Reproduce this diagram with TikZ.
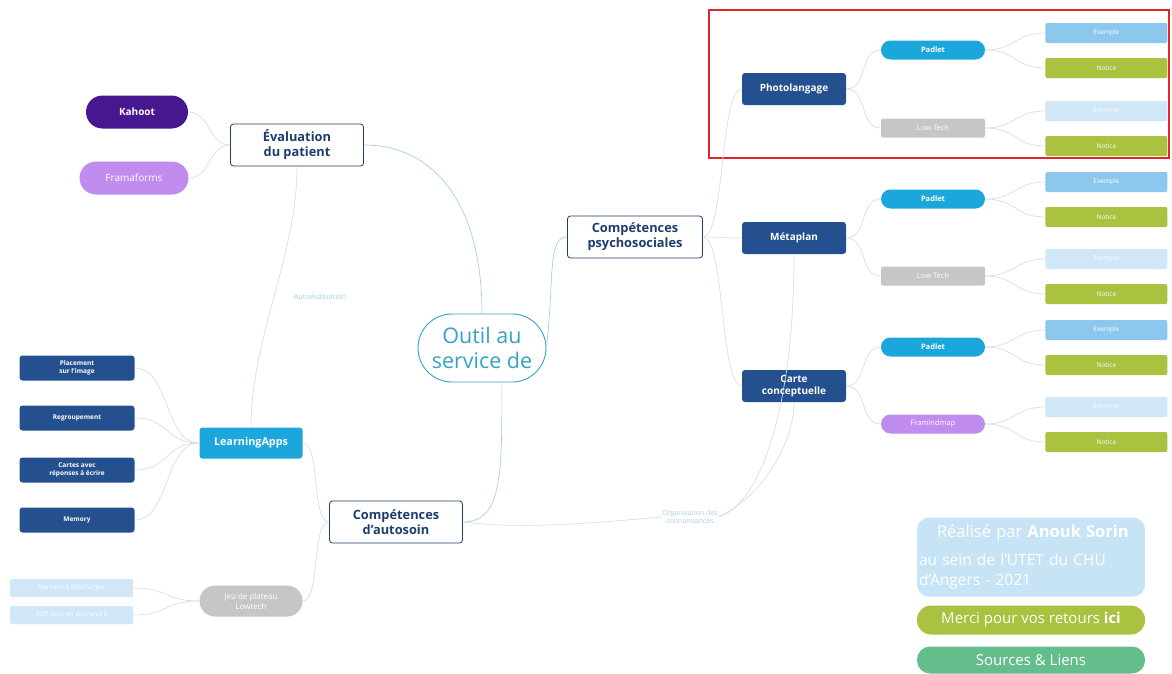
\documentclass[tikz,border=0pt]{standalone}
\usepackage{fontspec}
\setmainfont{Open Sans}
\usetikzlibrary{positioning}
\definecolor{mnavy}{HTML}{24508F}
\definecolor{mdark}{HTML}{1F3C6E}
\definecolor{mteal}{HTML}{35A3C6}
\definecolor{mblue}{HTML}{1BA6DC}
\definecolor{mpurple}{HTML}{46178F}
\definecolor{mlilac}{HTML}{C08CF0}
\definecolor{mgrey}{HTML}{C6C6C6}
\definecolor{mexa}{HTML}{8CC8EE}
\definecolor{mexb}{HTML}{CFE7F7}
\definecolor{mgreen}{HTML}{A9C23F}
\definecolor{mmint}{HTML}{64BE8C}
\definecolor{msky}{HTML}{C6E4F6}
\definecolor{mred}{HTML}{E0282C}
\definecolor{mline}{HTML}{A8D0E8}
\definecolor{mthin}{HTML}{D6E0E8}
\tikzset{topic/.style = {draw=mdark, line width=0.8pt, fill=white, rounded corners=3pt,
                         text=mdark, align=center, inner sep=0,
                         font=\bfseries\fontsize{12.8}{15}\selectfont,
                         minimum width=133, minimum height=42}}
\tikzset{box/.style = {rounded corners=3pt, text=white, align=center, inner sep=0,
                       font=\bfseries\fontsize{10}{12}\selectfont,
                       minimum width=104, minimum height=32}}
\tikzset{pill/.style = {box, rounded corners=#1}, pill/.default=9.5pt}
\tikzset{leaf/.style = {rounded corners=2pt, text=white, inner sep=0, anchor=west,
                        font=\fontsize{6.5}{8}\selectfont,
                        minimum width=122, minimum height=20}}
\tikzset{note/.style = {text=mline, align=center, inner sep=0,
                        font=\fontsize{7.5}{9}\selectfont}}
\tikzset{link/.style = {draw=mline, line width=0.7pt}}
\tikzset{thin/.style = {draw=mthin, line width=0.7pt}}
\tikzset{branch/.style = {to path={.. controls +(#1,0) and +(-#1,0) .. (\tikztotarget) \tikztonodes}}}

\begin{document}
\begin{tikzpicture}[x=1pt, y=-1pt]
    \useasboundingbox [fill=white] (0,0) rectangle (1172,673);

    % centre et themes
    \node [draw=mteal, line width=0.9pt, rounded corners=34pt, text=mteal, align=center,
           minimum width=128, minimum height=68, inner sep=0,
           font=\fontsize{21.5}{25}\selectfont] (outil) at (482,348) {Outil au\\service de};
    \node [topic] (eval) at (297,145) {Évaluation\\du patient};
    \node [topic, minimum width=135] (psy) at (635,237) {Compétences\\psychosociales};
    \node [topic] (auto) at (396,522) {Compétences\\d'autosoin};

    \draw [link] (outil.north) .. controls +(0,-110) and +(70,0) .. (eval.east);
    \draw [link] (outil.east) .. controls +(8,-70) and +(-20,0) .. (psy.west);
    \draw [link] (outil.-60) .. controls +(0,90) and +(40,0) .. (auto.east);

    % evaluation du patient
    \node [pill=16.5pt, fill=mpurple, minimum width=102, minimum height=33] (kahoot) at (137,112) {Kahoot};
    \node [pill=16.5pt, fill=mlilac, minimum width=109, minimum height=33, font=\fontsize{10}{12}\selectfont] (frama) at (134,178) {Framaforms};
    \draw [thin] (eval.west) to [branch=-22] (kahoot.east);
    \draw [thin] (eval.west) to [branch=-22] (frama.east);

    % autosoin
    \node [box, fill=mblue, minimum width=103, minimum height=31, font=\bfseries\fontsize{10.8}{13}\selectfont] (lapps) at (251,443) {LearningApps};
    \node [pill=15.5pt, fill=mgrey, minimum width=103, minimum height=31,
           font=\fontsize{8}{10}\selectfont] (jeu) at (251,601) {Jeu de plateau\\Lowtech};
    \draw [thin] (eval.south) .. controls +(0,90) and +(0,-90) ..
        node [note, pos=0.5, xshift=46pt] {Autoévaluation} (lapps.north);
    \draw [thin] (auto.west) to [branch=-18] (lapps.east);
    \draw [thin] (auto.west) to [branch=-18] (jeu.east);

    \node [box, fill=mnavy, minimum width=115, minimum height=25, font=\bfseries\fontsize{6.5}{7.5}\selectfont] (place) at (77,368) {Placement\\sur l'image};
    \node [box, fill=mnavy, minimum width=115, minimum height=25, font=\bfseries\fontsize{6.5}{7.5}\selectfont] (regr) at (77,418) {Regroupement};
    \node [box, fill=mnavy, minimum width=115, minimum height=25, font=\bfseries\fontsize{6.5}{7.5}\selectfont] (cartes) at (77,470) {Cartes avec\\réponses à écrire};
    \node [box, fill=mnavy, minimum width=115, minimum height=25, font=\bfseries\fontsize{6.5}{7.5}\selectfont] (memo) at (77,520) {Memory};
    \foreach \n in {place, regr, cartes, memo}
        \draw [thin] (lapps.west) to [branch=-35] (\n.east);

    \node [leaf, fill=mexb, minimum width=123, minimum height=18] (telech) at (10,588) {Exemple à télécharger};
    \node [leaf, fill=mexb, minimum width=123, minimum height=18] (pdf) at (10,615) {PDF pour en apprendre};
    \draw [thin] (jeu.west) to [branch=-35] (telech.east);
    \draw [thin] (jeu.west) to [branch=-35] (pdf.east);

    % psychosociales
    \node [draw=mred, line width=1.4pt, minimum width=460, minimum height=148, inner sep=0] (cadre) at (939,84) {};
    \node [box, fill=mnavy] (photo) at (794,89) {Photolangage};
    \node [box, fill=mnavy] (meta) at (794,238) {Métaplan};
    \node [box, fill=mnavy] (carte) at (794,386) {Carte\\conceptuelle};
    \foreach \n in {photo, meta, carte}
        \draw [thin] (psy.east) to [branch=22] (\n.west);

    \node [pill, fill=mblue, minimum height=19, font=\bfseries\fontsize{7.5}{9}\selectfont] (pad1) at (933,50) {Padlet};
    \node [box, fill=mgrey, minimum height=19, rounded corners=2pt, font=\fontsize{7.5}{9}\selectfont] (low1) at (933,128) {Low Tech};
    \node [pill, fill=mblue, minimum height=19, font=\bfseries\fontsize{7.5}{9}\selectfont] (pad2) at (933,199) {Padlet};
    \node [box, fill=mgrey, minimum height=19, rounded corners=2pt, font=\fontsize{7.5}{9}\selectfont] (low2) at (933,276) {Low Tech};
    \node [pill, fill=mblue, minimum height=19, font=\bfseries\fontsize{7.5}{9}\selectfont] (pad3) at (933,347) {Padlet};
    \node [pill, fill=mlilac, minimum height=19, font=\fontsize{7.5}{9}\selectfont] (fra3) at (933,424) {Framindmap};
    \draw [thin] (photo.east) to [branch=22] (pad1.west);
    \draw [thin] (photo.east) to [branch=22] (low1.west);
    \draw [thin] (meta.east) to [branch=22] (pad2.west);
    \draw [thin] (meta.east) to [branch=22] (low2.west);
    \draw [thin] (carte.east) to [branch=22] (pad3.west);
    \draw [thin] (carte.east) to [branch=22] (fra3.west);

    \foreach \m/\c in {pad1/mexa, low1/mexb, pad2/mexa, low2/mexb, pad3/mexa, fra3/mexb} {
        \node [leaf, fill=\c] (\m-ex) at ([xshift=60pt, yshift=17pt]\m.east) {Exemple};
        \node [leaf, fill=mgreen] (\m-no) at ([xshift=60pt, yshift=-18pt]\m.east) {Notice};
        \draw [thin] (\m.east) to [branch=30] (\m-ex.west);
        \draw [thin] (\m.east) to [branch=30] (\m-no.west);
    }

    % organisation des connaissances
    \node [note, font=\fontsize{7}{8.5}\selectfont] (orga) at (690,517) {Organisation des\\connaissances};
    \draw [thin] (auto.east) .. controls +(60,8) and +(-60,5) .. (orga.west);
    \draw [thin] (orga.east) .. controls +(40,-10) and +(0,160) .. (meta.south);
    \draw [thin] (orga.east) .. controls +(45,-20) and +(0,40) .. (carte.south);

    % credits
    \node [fill=msky, rounded corners=12pt, text=white, minimum width=228, minimum height=79,
           text width=224, align=left, inner sep=0,
           font=\fontsize{15.5}{19.5}\selectfont] (credit) at (1031,557)
          {\hspace*{18pt}{\fontsize{16.5}{19}\selectfont Réalisé par \textbf{Anouk Sorin}}\\[9pt]
           au sein de l'UTET du CHU\\d'Angers - 2021};
    \node [fill=mgreen, rounded corners=14pt, text=white, minimum width=228, minimum height=29,
           inner sep=0, font=\fontsize{15}{17}\selectfont] (merci) at (1031,620)
          {Merci pour vos retours \textbf{ici}};
    \node [fill=mmint, rounded corners=13pt, text=white, minimum width=228, minimum height=27,
           inner sep=0, font=\fontsize{15}{17}\selectfont] (sources) at (1031,660)
          {Sources \& Liens};
\end{tikzpicture}
\end{document}
